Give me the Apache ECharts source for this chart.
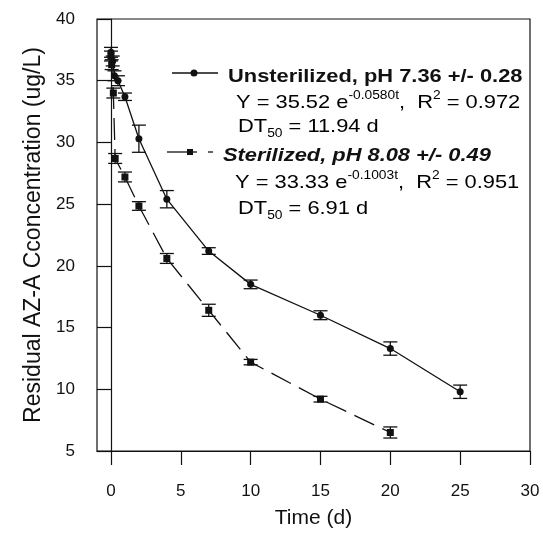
<!DOCTYPE html>
<html>
<head>
<meta charset="utf-8">
<script src="https://cdn.jsdelivr.net/npm/echarts@6/dist/echarts.min.js"></script>
<style>
  html, body { margin: 0; padding: 0; background: #fff; }
  #chart { width: 543px; height: 542px; }
</style>
</head>
<body>
<div id="chart"></div>
<script>
// values
const unsterTime = [0, 0.125, 0.25, 0.5, 1, 2, 4, 7, 10, 15, 20, 25]
const unsterConc = [37.3, 36.6, 35.4, 35.0, 33.7, 30.3, 25.4, 21.2, 18.5, 16.0, 13.3, 9.8]
const unsterErr = [0.4, 0.4, 0.4, 0.4, 0.3, 1.1, 0.7, 0.27, 0.35, 0.36, 0.54, 0.54]

const sterTime = [0, 0.05, 0.17, 0.3, 1, 2, 4, 7, 10, 15, 20]
const sterConc = [37.0, 36.3, 34.0, 28.7, 27.2, 24.85, 20.6, 16.4, 12.2, 9.2, 6.5]
const sterErr = [0.4, 0.4, 0.4, 0.4, 0.4, 0.35, 0.4, 0.49, 0.22, 0.23, 0.45]

const xTicks = [0, 5, 10, 15, 20, 25, 30]

const FONT = '"Liberation Sans", Arial, sans-serif'
const INK = '#111'
const STRETCH = 1.15 // the scanned annotation type is wider than Arial

function pairs(xs, ys) { return xs.map((x, i) => [x, ys[i]]) }
function errRows(xs, ys, es) { return xs.map((x, i) => [x, ys[i], es[i]]) }

function renderErrBar(params, api) {
  const x = api.value(0)
  const y = api.value(1)
  const e = api.value(2)
  const hi = api.coord([x, y + e])
  const lo = api.coord([x, y - e])
  const half = 7
  const style = { stroke: INK, lineWidth: 1.3 }
  return {
    type: 'group',
    children: [
      { type: 'line', shape: { x1: hi[0], y1: hi[1], x2: lo[0], y2: lo[1] }, style },
      { type: 'line', shape: { x1: hi[0] - half, y1: hi[1], x2: hi[0] + half, y2: hi[1] }, style },
      { type: 'line', shape: { x1: lo[0] - half, y1: lo[1], x2: lo[0] + half, y2: lo[1] }, style },
    ],
  }
}

const chart = echarts.init(document.getElementById('chart'))

const richEq = {
  n: { fontFamily: FONT, fontSize: 19, color: INK, lineHeight: 26 },
  s: { fontFamily: FONT, fontSize: 12, color: INK, lineHeight: 14, verticalAlign: 'top' },
  b: { fontFamily: FONT, fontSize: 12, color: INK, lineHeight: 12, verticalAlign: 'bottom' },
}

function eqText(left, top, text) {
  return { type: 'text', x: left, y: top, scaleX: STRETCH, style: { text, rich: richEq } }
}

function headText(left, top, text, italic) {
  return {
    type: 'text', x: left, y: top, scaleX: STRETCH,
    style: { text, fontFamily: FONT, fontSize: 19, fontWeight: 'bold', fontStyle: italic ? 'italic' : 'normal', fill: INK },
  }
}

chart.setOption({
  animation: false,
  backgroundColor: '#fff',
  grid: { left: 97, right: 13, top: 19, bottom: 91, show: true, borderColor: INK, borderWidth: 1.2, containLabel: false },
  xAxis: {
    type: 'value',
    min: -1,
    max: 30,
    name: 'Time (d)',
    nameLocation: 'middle',
    nameGap: 57,
    nameTextStyle: { fontFamily: FONT, fontSize: 21, color: INK },
    axisLine: { lineStyle: { color: INK, width: 1.2 } },
    axisTick: { show: true, length: 14, customValues: xTicks, lineStyle: { color: INK, width: 1.2 } },
    axisLabel: { customValues: xTicks, margin: 32, fontFamily: FONT, fontSize: 17, color: INK },
    splitLine: { show: false },
  },
  yAxis: {
    type: 'value',
    min: 5,
    max: 40,
    interval: 5,
    name: 'Residual AZ-A Cconcentration (ug/L)',
    nameLocation: 'middle',
    nameGap: 50,
    nameTextStyle: { fontFamily: FONT, fontSize: 23, color: INK },
    axisLine: { show: true, lineStyle: { color: INK, width: 1.2 } },
    axisTick: { show: true, length: 14, lineStyle: { color: INK, width: 1.2 } },
    axisLabel: { margin: 22, fontFamily: FONT, fontSize: 17, color: INK },
    splitLine: { show: false },
  },
  graphic: [
    // legend glyphs
    { type: 'line', shape: { x1: 172, y1: 73, x2: 218, y2: 73 }, style: { stroke: INK, lineWidth: 1.3 } },
    { type: 'circle', shape: { cx: 194, cy: 73, r: 3.5 }, style: { fill: INK } },
    { type: 'line', shape: { x1: 167, y1: 152, x2: 197, y2: 152 }, style: { stroke: INK, lineWidth: 1.3 } },
    { type: 'line', shape: { x1: 208, y1: 152, x2: 213, y2: 152 }, style: { stroke: INK, lineWidth: 1.3 } },
    { type: 'rect', shape: { x: 187, y: 149, width: 6, height: 6 }, style: { fill: INK } },
    headText(228, 67, 'Unsterilized, pH 7.36 +/- 0.28', false),
    eqText(236, 90, '{n|Y = 35.52 e}{s|-0.0580t}{n|,  R}{s|2}{n| = 0.972}'),
    eqText(238, 114, '{n|DT}{b|50}{n| = 11.94 d}'),
    headText(223, 146, 'Sterilized, pH 8.08 +/- 0.49', true),
    eqText(235, 170, '{n|Y = 33.33 e}{s|-0.1003t}{n|,  R}{s|2}{n| = 0.951}'),
    eqText(238, 196, '{n|DT}{b|50}{n| = 6.91 d}'),
  ],
  series: [
    {
      name: 'Unsterilized',
      type: 'line',
      data: pairs(unsterTime, unsterConc),
      symbol: 'circle',
      symbolSize: 7,
      itemStyle: { color: INK },
      lineStyle: { color: INK, width: 1.3 },
      z: 3,
    },
    {
      name: 'Sterilized',
      type: 'line',
      data: pairs(sterTime, sterConc),
      symbol: 'rect',
      symbolSize: 7,
      itemStyle: { color: INK },
      lineStyle: { color: INK, width: 1.3, type: [22, 9] },
      z: 3,
    },
    { type: 'custom', data: errRows(unsterTime, unsterConc, unsterErr), renderItem: renderErrBar, z: 2 },
    { type: 'custom', data: errRows(sterTime, sterConc, sterErr), renderItem: renderErrBar, z: 2 },
  ],
})
</script>
</body>
</html>
